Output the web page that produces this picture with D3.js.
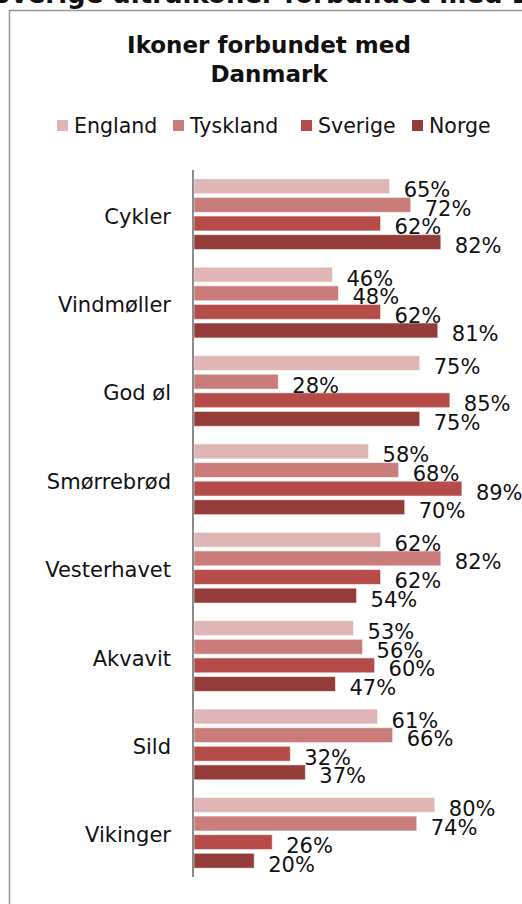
<!DOCTYPE html>
<html>
<head>
<meta charset="utf-8">
<script src="https://cdn.jsdelivr.net/npm/d3@7"></script>
<style>
  html, body { margin: 0; padding: 0; background: #fff; overflow: hidden; }
  svg { display: block; font-family: "DejaVu Sans", Verdana, sans-serif; }
</style>
</head>
<body>
<div class="vis-icons"></div>
<script>
// chart data
const categories = ['Cykler', 'Vindmøller', 'God øl', 'Smørrebrød', 'Vesterhavet', 'Akvavit', 'Sild', 'Vikinger'];
const seriesNames = ['England', 'Tyskland', 'Sverige', 'Norge'];
const england  = [65, 46, 75, 58, 62, 53, 61, 80];
const tyskland = [72, 48, 28, 68, 82, 56, 66, 74];
const sverige  = [62, 62, 85, 89, 62, 60, 32, 26];
const norge    = [82, 81, 75, 70, 54, 47, 37, 20];
const seriesColors = ['#dfb6b5', '#c97c7a', '#b54c49', '#943c3a'];

const W = 522, H = 904;
const values = [england, tyskland, sverige, norge];

const rows = [];
categories.forEach((c, i) => {
    seriesNames.forEach((s, j) => {
        rows.push({ cat: c, series: s, value: values[j][i] });
    });
});

const svg = d3.select('.vis-icons')
    .append('svg')
    .attr('width', W)
    .attr('height', H);

// page heading, cut off at top edge
svg.append('text')
    .attr('x', -8)
    .attr('y', 3)
    .attr('font-size', '26px')
    .attr('font-weight', 'bold')
    .attr('fill', '#111')
    .text('Sverige ultraikoner forbundet med Danmark');

// chart frame
svg.append('path')
    .attr('d', 'M9.5,' + H + ' V10.5 H' + W)
    .attr('fill', 'none')
    .attr('stroke', '#999')
    .attr('stroke-width', 1.5);

// title
const title = svg.append('text')
    .attr('text-anchor', 'middle')
    .attr('font-size', '23px')
    .attr('font-weight', 'bold')
    .attr('fill', '#111');
title.append('tspan').attr('x', 269).attr('y', 53).text('Ikoner forbundet med');
title.append('tspan').attr('x', 269).attr('y', 82).text('Danmark');

// legend
const legendX = [57, 173, 301, 412];
const legend = svg.selectAll('.legend')
    .data(seriesNames)
    .enter()
    .append('g')
    .attr('class', 'legend')
    .attr('transform', (d, i) => 'translate(' + legendX[i] + ',120)');
legend.append('rect')
    .attr('width', 11)
    .attr('height', 11)
    .attr('fill', (d, i) => seriesColors[i]);
legend.append('text')
    .attr('x', 17)
    .attr('y', 13)
    .attr('font-size', '20.5px')
    .attr('fill', '#111')
    .text(d => d);

// scales
const x = d3.scaleLinear().domain([0, 100]).range([194, 495]);
const y = d3.scaleBand()
    .domain(categories)
    .range([170, 877])
    .paddingInner(0.2)
    .paddingOuter(0.1);
const ySub = d3.scaleBand()
    .domain(seriesNames)
    .range([0, y.bandwidth()])
    .paddingInner(0.2);
const color = d3.scaleOrdinal().domain(seriesNames).range(seriesColors);

// bars
svg.selectAll('.bar')
    .data(rows)
    .enter()
    .append('rect')
    .attr('class', 'bar')
    .attr('x', x(0))
    .attr('y', d => y(d.cat) + ySub(d.series))
    .attr('width', d => x(d.value) - x(0))
    .attr('height', ySub.bandwidth())
    .attr('fill', d => color(d.series))
    .attr('stroke', '#fff')
    .attr('stroke-opacity', 0.55)
    .attr('stroke-width', 1);

// value labels (they overlap in the source too)
svg.selectAll('.val')
    .data(rows)
    .enter()
    .append('text')
    .attr('class', 'val')
    .attr('x', d => x(d.value) + 14)
    .attr('y', d => y(d.cat) + ySub(d.series) + ySub.bandwidth() / 2 + 11)
    .attr('font-size', '21px')
    .attr('fill', '#111')
    .text(d => d.value + '%');

// category axis
const yAxis = svg.append('g')
    .attr('transform', 'translate(193,0)')
    .call(d3.axisLeft(y).tickSize(0).tickPadding(22));
yAxis.select('.domain')
    .attr('d', 'M0,170V877')
    .attr('stroke', '#8c8c8c')
    .attr('stroke-width', 2);
yAxis.selectAll('.tick text')
    .attr('font-family', '"DejaVu Sans", Verdana, sans-serif')
    .attr('font-size', '21px')
    .attr('fill', '#111')
    .attr('dy', '0.45em');
</script>
</body>
</html>
